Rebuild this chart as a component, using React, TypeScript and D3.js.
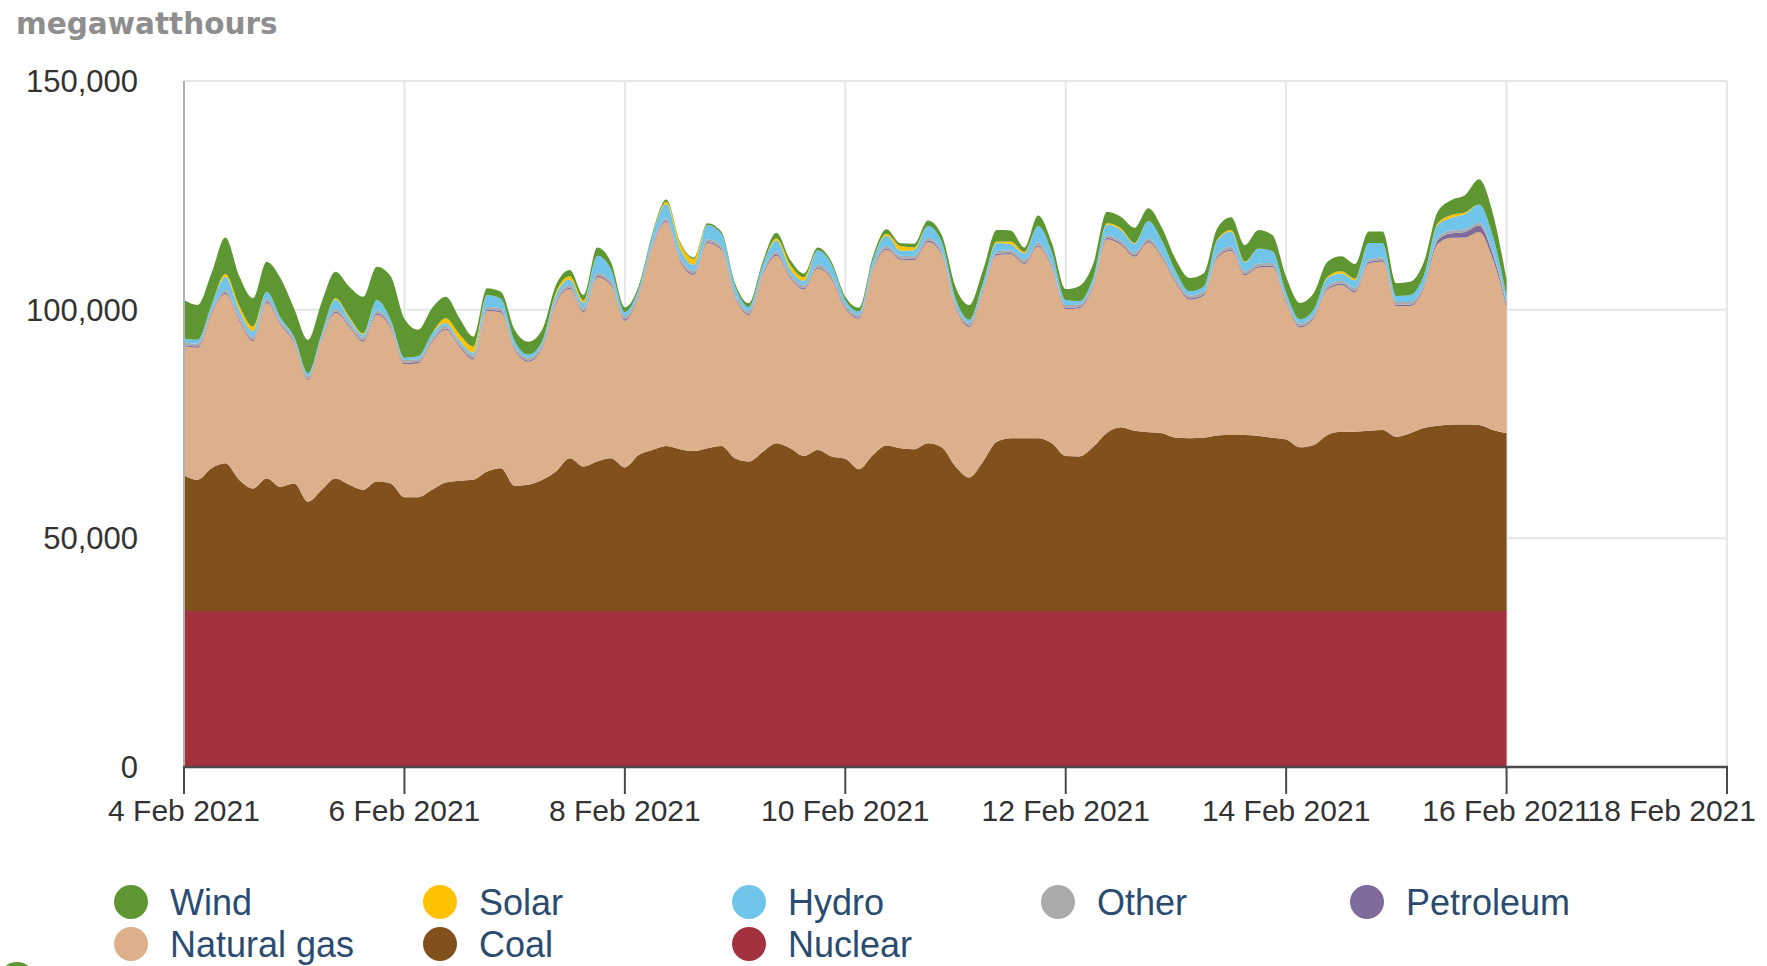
import React from 'react';
import * as d3 from 'd3';

// 3-hourly readings, 4 Feb 2021 00:00 -> 16 Feb 2021 00:00 (megawatthours)
const startDate = new Date(2021, 1, 4);
const hourOffsets = d3.range(0, 289, 3);
// axis ticks every second day, 4 Feb -> 18 Feb
const tickDayOffsets = [0, 2, 4, 6, 8, 10, 12, 14];

const nuclear = [
  34100, 34100, 34100, 34100, 34100, 34100, 34100, 34100, 34100, 34100, 34100, 34100, 34100, 34100, 34100, 34100,
  34100, 34100, 34100, 34100, 34100, 34100, 34100, 34100, 34100, 34100, 34100, 34100, 34100, 34100, 34100, 34100,
  34100, 34100, 34100, 34100, 34100, 34100, 34100, 34100, 34100, 34100, 34100, 34100, 34100, 34100, 34100, 34100,
  34100, 34100, 34100, 34100, 34100, 34100, 34100, 34100, 34100, 34100, 34100, 34100, 34100, 34100, 34100, 34100,
  34100, 34100, 34100, 34100, 34100, 34100, 34100, 34100, 34100, 34100, 34100, 34100, 34100, 34100, 34100, 34100,
  34100, 34100, 34100, 34100, 34100, 34100, 34100, 34100, 34100, 34100, 34100, 34100, 34100, 34100, 34100, 34100,
  34100,
];
const coal = [
  29700, 28700, 31200, 32300, 28700, 26800, 29000, 27200,
  27900, 23900, 26500, 29000, 27600, 26500, 28300, 27900,
  24900, 24900, 26500, 28100, 28500, 28700, 30500, 31200,
  27400, 27600, 28700, 30500, 33400, 31600, 32700, 33400,
  31400, 34100, 35200, 36100, 35400, 35000, 35600, 36100,
  33400, 32700, 34800, 36700, 35600, 33900, 35200, 33800,
  33300, 31000, 34100, 36200, 35600, 35400, 36700, 35800,
  31600, 29200, 32700, 37000, 37800, 37800, 37800, 36700,
  33900, 33800, 35900, 39000, 40200, 39400, 39100, 38900,
  37900, 37800, 37900, 38400, 38500, 38500, 38300, 37900,
  37500, 35800, 36300, 38500, 39200, 39200, 39400, 39600,
  38100, 38900, 40000, 40500, 40800, 40800, 40700, 39600,
  38900,
];
const naturalGas = [
  28200, 28900, 33700, 37000, 34900, 32200, 38400, 35400,
  30600, 26600, 32700, 36200, 34500, 32400, 36500, 34000,
  29100, 29300, 32200, 33400, 29200, 26300, 35100, 34100,
  29600, 26900, 28700, 36700, 37000, 33700, 40300, 37800,
  32100, 34700, 44400, 48900, 41100, 38500, 44800, 42900,
  35200, 32000, 38500, 41000, 37200, 36400, 39700, 38700,
  32800, 32900, 40400, 42800, 41200, 41300, 44000, 42100,
  34800, 32900, 37100, 40800, 40200, 38100, 41900, 38200,
  32100, 32400, 35100, 42300, 39900, 38100, 41500, 38200,
  33800, 30300, 31000, 38800, 40300, 34900, 36800, 37300,
  29900, 26200, 27600, 31800, 32100, 30500, 36600, 36800,
  28600, 27800, 30600, 39800, 40800, 40900, 42200, 37400,
  27500,
];
const petroleum = [
  300, 300, 300, 300, 300, 300, 300, 300, 300, 300, 300, 300, 300, 300, 300, 300,
  300, 300, 300, 300, 300, 300, 300, 300, 300, 300, 300, 300, 300, 300, 300, 300,
  300, 300, 300, 300, 300, 300, 300, 300, 300, 300, 300, 300, 300, 300, 300, 300,
  300, 300, 300, 300, 300, 300, 300, 300, 300, 300, 300, 300, 300, 300, 300, 300,
  300, 300, 300, 300, 300, 300, 300, 300, 300, 300, 300, 300, 300, 300, 300, 300,
  300, 300, 300, 300, 300, 300, 300, 300, 300, 300, 300, 800, 1000, 1200, 1400, 1000,
  600,
];
const other = [
  600, 600, 600, 600, 600, 600, 600, 600, 600, 600, 600, 600, 600, 600, 600, 600,
  600, 600, 600, 600, 600, 600, 600, 600, 600, 600, 600, 600, 600, 600, 600, 600,
  600, 600, 600, 600, 600, 600, 600, 600, 600, 600, 600, 600, 600, 600, 600, 600,
  600, 600, 600, 600, 600, 600, 600, 600, 600, 600, 600, 600, 600, 600, 600, 600,
  600, 600, 600, 600, 600, 600, 600, 600, 600, 600, 600, 600, 600, 600, 600, 600,
  600, 600, 600, 600, 600, 600, 600, 600, 600, 600, 600, 600, 600, 600, 600, 600,
  600,
];
const hydro = [
  800, 800, 1100, 2900, 1400, 1300, 1500, 700,
  500, 600, 600, 2000, 900, 600, 2300, 900,
  500, 600, 1100, 600, 600, 600, 2600, 2100,
  1100, 700, 700, 1100, 1200, 1100, 3800, 2600,
  1000, 700, 1600, 3100, 1900, 1300, 3100, 2600,
  1600, 900, 1400, 2400, 1100, 1000, 3100, 2400,
  1000, 700, 1300, 2200, 1100, 1300, 2600, 1900,
  1100, 700, 1100, 1800, 1300, 1400, 3600, 2600,
  1100, 700, 1100, 2300, 2300, 1900, 3800, 2900,
  1600, 900, 1100, 2900, 3300, 1900, 3300, 2600,
  1300, 900, 1100, 1600, 1600, 1700, 3600, 3100,
  1300, 1500, 1900, 2700, 2800, 3300, 4000, 3400,
  1300,
];
const solar = [
  0, 0, 0, 600, 900, 1000, 0, 0,
  0, 0, 0, 300, 400, 300, 0, 0,
  0, 0, 0, 1000, 1300, 1300, 0, 0,
  0, 0, 0, 500, 700, 600, 0, 0,
  0, 0, 0, 500, 1200, 1300, 0, 0,
  0, 0, 0, 500, 1000, 800, 0, 0,
  0, 0, 0, 400, 1000, 600, 0, 0,
  0, 0, 0, 300, 600, 300, 0, 0,
  0, 0, 0, 300, 400, 200, 0, 0,
  0, 0, 0, 200, 300, 200, 0, 0,
  0, 0, 0, 300, 500, 400, 0, 0,
  0, 0, 0, 400, 600, 400, 0, 0,
  0,
];
const wind = [
  8400, 7600, 7000, 8000, 6500, 6200, 6600, 8600,
  6200, 7300, 6900, 5800, 6600, 8000, 7300, 9500,
  8500, 5800, 5500, 4700, 3500, 2200, 1500, 1500,
  2500, 2800, 2500, 1600, 1400, 1200, 1800, 1500,
  1000, 700, 500, 500, 300, 300, 400, 500,
  600, 800, 800, 1200, 1000, 800, 600, 600,
  700, 800, 800, 1000, 600, 800, 1200, 1500,
  2500, 3200, 2800, 2500, 2400, 1000, 2300, 2000,
  2400, 3300, 3000, 2500, 2500, 3300, 2800, 2800,
  2600, 2900, 2900, 2500, 2800, 3600, 4000, 3500,
  3500, 3600, 3600, 3300, 3300, 3200, 2500, 2600,
  2800, 2900, 3000, 2500, 3300, 3800, 5500, 5000,
  3500,
];

// stacking order, bottom to top
const stackKeys = ['Nuclear', 'Coal', 'Natural gas', 'Petroleum', 'Other', 'Hydro', 'Solar', 'Wind'];
const seriesValues: Record<string, number[]> = {
  Nuclear: nuclear,
  Coal: coal,
  'Natural gas': naturalGas,
  Petroleum: petroleum,
  Other: other,
  Hydro: hydro,
  Solar: solar,
  Wind: wind,
};
const colors: Record<string, string> = {
  Wind: '#5e9732',
  Solar: '#ffc200',
  Hydro: '#71c4ea',
  Other: '#aaaaaa',
  Petroleum: '#7f6a9c',
  'Natural gas': '#dbb08a',
  Coal: '#80501d',
  Nuclear: '#a3323f',
};
const legendRows = [
  ['Wind', 'Solar', 'Hydro', 'Other', 'Petroleum'],
  ['Natural gas', 'Coal', 'Nuclear'],
];
const yTicks = [0, 50000, 100000, 150000];

const W = 1767;
const H = 966;

export default function App() {
  const x = d3
    .scaleTime()
    .domain([new Date(2021, 1, 4), new Date(2021, 1, 18)])
    .range([184, 1727]);
  const y = d3.scaleLinear().domain([0, 150000]).range([767, 81]);

  const rows = hourOffsets.map((h, i) => {
    const row: any = { date: d3.timeHour.offset(startDate, h) };
    stackKeys.forEach((k) => (row[k] = seriesValues[k][i]));
    return row;
  });

  const layers = d3.stack().keys(stackKeys)(rows);

  const area = d3
    .area<any>()
    .x((d) => x(d.data.date))
    .y0((d) => y(d[0]))
    .y1((d) => y(d[1]))
    .curve(d3.curveMonotoneX);

  const xTicks = tickDayOffsets.map((d) => d3.timeDay.offset(startDate, d));
  const fmt = d3.timeFormat('%-d %b %Y');
  const lastTick = xTicks[xTicks.length - 1];

  return (
    <svg
      width={W}
      height={H}
      style={{ position: 'absolute', left: 0, top: 0, display: 'block', background: '#fff' }}
      fontFamily="'Liberation Sans', Arial, sans-serif"
    >
      <text x={16} y={34} fontFamily="'DejaVu Sans', sans-serif" fontWeight="bold" fontSize={29.5} fill="#8e8e8e">
        megawatthours
      </text>

      {/* grid */}
      {yTicks.map((t) => (
        <line key={'gy' + t} x1={184} x2={1727} y1={y(t)} y2={y(t)} stroke="#e6e6e6" strokeWidth={2} />
      ))}
      {xTicks.map((t) => (
        <line key={'gx' + +t} x1={x(t)} x2={x(t)} y1={81} y2={767} stroke="#e6e6e6" strokeWidth={2} />
      ))}

      {/* stacked areas */}
      {layers.map((layer) => (
        <path key={layer.key} d={area(layer as any) || ''} fill={colors[layer.key]} />
      ))}

      {/* axes */}
      <line x1={184} x2={184} y1={81} y2={767} stroke="#b0b0b0" strokeWidth={2} />
      <line x1={183} x2={1728} y1={767} y2={767} stroke="#4a4a4a" strokeWidth={2.5} />
      {xTicks.map((t) => (
        <g key={'tx' + +t}>
          <line x1={x(t)} x2={x(t)} y1={767} y2={794} stroke="#4a4a4a" strokeWidth={2} />
          <text
            x={t === lastTick ? 1756 : x(t)}
            y={821}
            textAnchor={t === lastTick ? 'end' : 'middle'}
            fontSize={30}
            fill="#333"
          >
            {fmt(t)}
          </text>
        </g>
      ))}
      {yTicks.map((t) => (
        <text key={'ty' + t} x={138} y={y(t)} dy="0.36em" textAnchor="end" fontSize={31} fill="#333">
          {d3.format(',')(t)}
        </text>
      ))}

      {/* legend */}
      {legendRows.map((row, r) =>
        row.map((name, c) => {
          const cx = 131 + c * 309;
          const cy = 902 + r * 42;
          return (
            <g key={name}>
              <circle cx={cx} cy={cy} r={17} fill={colors[name]} />
              <text x={cx + 39} y={cy} dy="0.36em" fontSize={36} fill="#2b4c70">
                {name}
              </text>
            </g>
          );
        })
      )}
      <circle cx={17} cy={980} r={18} fill="#5e9732" />
    </svg>
  );
}
